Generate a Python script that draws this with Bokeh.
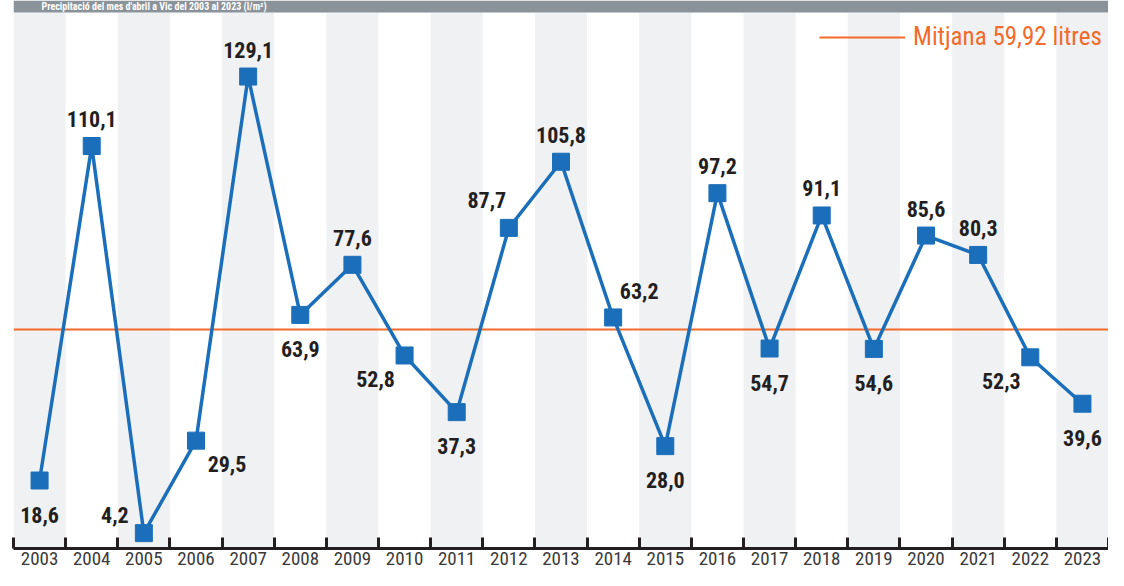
from bokeh.plotting import figure
from bokeh.models import (ColumnDataSource, FixedTicker, Legend, LegendItem, BoxAnnotation, Label)
from bokeh.core.properties import value
from bokeh.embed import file_html
from bokeh.resources import INLINE

years = [str(y) for y in range(2003, 2024)]
rain = [18.6, 110.1, 4.2, 29.5, 129.1, 63.9, 77.6, 52.8, 37.3, 87.7, 105.8,
        63.2, 28.0, 97.2, 54.7, 91.1, 54.6, 85.6, 80.3, 52.3, 39.6]
labels = ["18,6", "110,1", "4,2", "29,5", "129,1", "63,9", "77,6", "52,8", "37,3", "87,7", "105,8",
          "63,2", "28,0", "97,2", "54,7", "91,1", "54,6", "85,6", "80,3", "52,3", "39,6"]
placement = ["below", "above", "left_above", "right_below", "above", "below", "above",
             "left_below", "below", "left_above2", "above", "right_above", "below", "above",
             "below", "above", "below", "above", "above", "left_below", "below"]
mean_value = 59.92
mean_label = "Mitjana 59,92 litres"
title_text = "Precipitació del mes d'abril a Vic del 2003 al 2023 (l/m²)"

# label offsets in screen pixels (dx right, dy up)
offsets = {
    "below": (0, -34), "above": (0, 27), "left_above": (-29, 18),
    "right_below": (31, -23), "left_below": (-29, -24), "right_above": (26, 26),
    "left_above2": (-22, 28),
}
xo = [offsets[pl][0] for pl in placement]
yo = [-offsets[pl][1] for pl in placement]

xs = list(range(len(years)))
src = ColumnDataSource(dict(x=xs, y=rain, lab=labels, xo=xo, yo=yo))

COND = "Liberation Sans Narrow, Roboto Condensed, Roboto, sans-serif"
BLUE = "#1b6fba"
ORANGE = "#f26b2b"
YMAX = 146.6   # top of plotting area
YTOP = 149.9   # top of frame (gray title band above YMAX)
X0, X1 = -0.5, len(years) - 0.5

p = figure(width=1108, height=570, output_backend="svg", toolbar_location=None,
           x_range=(X0, X1), y_range=(0, YTOP),
           min_border_left=13, min_border_right=0, min_border_top=0, min_border_bottom=22)
p.outline_line_color = None
p.background_fill_color = "white"
p.border_fill_color = "white"
p.xgrid.visible = False
p.ygrid.visible = False
p.yaxis.visible = False

# alternating background bands
band_x = [x for x in xs if x % 2 == 0]
p.vbar(x=band_x, width=1, bottom=0, top=YMAX, fill_color="#f0f1f3", line_color=None)

# gray title band
p.add_layout(BoxAnnotation(bottom=YMAX, fill_color="#8a9399", fill_alpha=1, line_color=None))
p.add_layout(Label(x=X0, y=(YMAX + YTOP) / 2, x_offset=28, text=title_text, text_color="white",
                   text_font=COND, text_font_style="bold", text_font_size="10px",
                   text_baseline="middle"))

# mean line
mean_r = p.line(x=[X0, X1], y=[mean_value, mean_value], line_color=ORANGE, line_width=2)

p.line("x", "y", source=src, line_color=BLUE, line_width=3.5)
p.scatter("x", "y", source=src, marker="square", size=17, fill_color=BLUE, line_color=BLUE)
p.text("x", "y", text="lab", source=src, x_offset="xo", y_offset="yo",
       text_align="center", text_baseline="middle", text_font=value(COND),
       text_font_style="bold", text_font_size="22px", text_color="#231f20")

legend = Legend(items=[LegendItem(label=mean_label, renderers=[mean_r])],
                location=(806, 497), glyph_width=86, glyph_height=20,
                label_text_color=ORANGE, label_text_font=COND, label_text_font_size="25px",
                background_fill_alpha=0, border_line_alpha=0, padding=0, margin=0,
                label_standoff=8, spacing=0)
p.add_layout(legend)

ax = p.xaxis[0]
ax.ticker = FixedTicker(ticks=xs, minor_ticks=[x - 0.5 for x in xs] + [xs[-1] + 0.5])
ax.major_label_overrides = {x: y for x, y in zip(xs, years)}
ax.major_tick_line_alpha = 0
ax.major_tick_in = 0
ax.major_tick_out = 0
ax.minor_tick_in = 11
ax.minor_tick_out = 0
ax.minor_tick_line_color = "#231f20"
ax.minor_tick_line_width = 3
ax.axis_line_color = "#231f20"
ax.axis_line_width = 3
ax.major_label_text_font = COND
ax.major_label_text_font_size = "19px"
ax.major_label_text_color = "#3a3a3a"
ax.major_label_standoff = 3

open("out.html", "w").write(file_html(p, INLINE))
